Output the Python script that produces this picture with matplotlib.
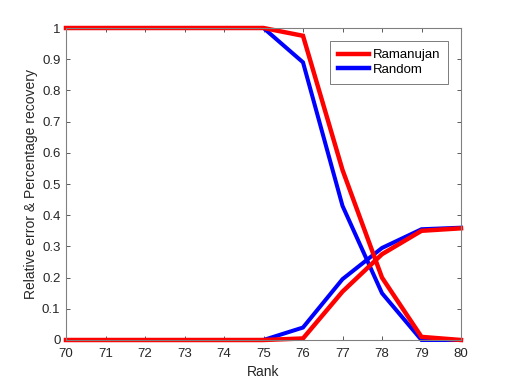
import matplotlib
matplotlib.use("Agg")
import matplotlib.pyplot as plt

rank = [70, 71, 72, 73, 74, 75, 76, 77, 78, 79, 80]
ramanujan_recovery = [1, 1, 1, 1, 1, 1, 0.975, 0.545, 0.20, 0.01, 0.0]
random_recovery = [1, 1, 1, 1, 1, 1, 0.89, 0.43, 0.15, 0.0, 0.0]
ramanujan_error = [0, 0, 0, 0, 0, 0, 0.005, 0.155, 0.275, 0.35, 0.358]
random_error = [0, 0, 0, 0, 0, 0, 0.04, 0.195, 0.295, 0.355, 0.36]

plt.rcParams['font.family'] = ['Liberation Sans', 'DejaVu Sans']
fig = plt.figure(figsize=(5.09, 3.82), dpi=100)
ax = fig.add_axes([66/509, 1 - 340/382, (461-66)/509, (340-28)/382])

lw = 3.2
kwb = dict(lw=lw - 0.3, solid_joinstyle='miter', clip_on=False)
kwr = dict(lw=lw, solid_joinstyle='miter', clip_on=False)
ax.plot(rank, random_recovery, color='#0000ff', **kwb)
ax.plot(rank, random_error, color='#0000ff', **kwb)
l1, = ax.plot(rank, ramanujan_recovery, color='#ff0000', **kwr)
ax.plot(rank, ramanujan_error, color='#ff0000', **kwr)
l2, = ax.plot([], [], color='#0000ff', lw=lw)

ax.set_xlim(70, 80)
ax.set_ylim(0, 1)
ax.set_xticks(range(70, 81))
ax.set_yticks([i / 10 for i in range(11)])
ax.set_yticklabels(['0', '0.1', '0.2', '0.3', '0.4', '0.5', '0.6', '0.7', '0.8', '0.9', '1'])
ax.tick_params(direction='in', length=3, width=0.6, colors='#404040', labelsize=9.5,
               top=True, right=True, labelcolor='#262626')
ax.tick_params(axis='x', pad=6)
ax.tick_params(axis='y', pad=4)
for s in ax.spines.values():
    s.set_color('#808080')
    s.set_linewidth(0.8)
ax.set_xlabel('Rank', fontsize=10, color='#262626', labelpad=3)
ax.set_ylabel('Relative error & Percentage recovery', fontsize=10, color='#262626', labelpad=3)

leg = ax.legend([l1, l2], ['Ramanujan', 'Random'], loc='upper right',
                bbox_to_anchor=(448/509, 1 - 41/382), bbox_transform=fig.transFigure,
                fontsize=9.5, frameon=True, fancybox=False, handlelength=2.3,
                borderpad=0.6, labelspacing=0.2, handletextpad=0.3, borderaxespad=0)
leg.get_frame().set_edgecolor('#404040')
leg.get_frame().set_linewidth(0.6)

fig.savefig('out.png', dpi=100)
